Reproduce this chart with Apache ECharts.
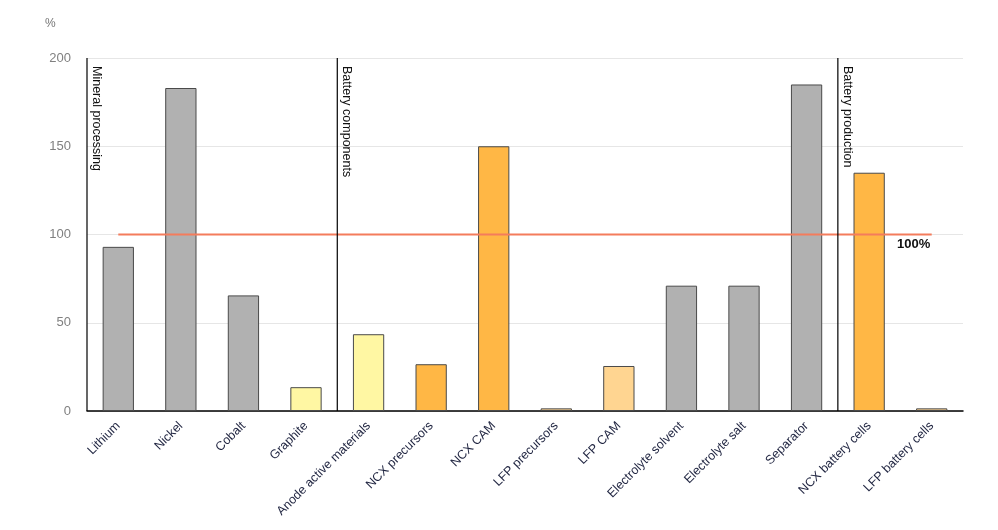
<!DOCTYPE html>
<html>
    <head>
        <meta charset="utf-8"/>
        <script src="https://cdn.jsdelivr.net/npm/echarts@6.0.0/dist/echarts.min.js"></script>
    </head>
	<body style="margin:0">
        <div id="main" style="width: 998px;height: 530px;"></div>
		<script>
			// 数据
			var categories = ['Lithium', 'Nickel', 'Cobalt', 'Graphite', 'Anode active materials', 'NCX precursors', 'NCX CAM',
			  'LFP precursors', 'LFP CAM', 'Electrolyte solvent', 'Electrolyte salt', 'Separator', 'NCX battery cells', 'LFP battery cells'];
			var values = [93, 183, 65.5, 13.5, 43.5, 26.5, 150, 1.5, 25.5, 71, 71, 185, 135, 1.5];
			var groups = ['mineral', 'mineral', 'mineral', 'anode', 'anode', 'ncx', 'ncx', 'lfp', 'lfp', 'mineral', 'mineral', 'mineral', 'ncx', 'lfp'];
			var threshold = categories.map(function () { return 100; });
			var stages = [[0, 'Mineral processing'], [4, 'Battery components'], [12, 'Battery production']];
			var yTicks = [0, 50, 100, 150, 200];

			var groupColors = { mineral: '#b1b1b1', anode: '#fff7a3', ncx: '#ffb745', lfp: '#ffd591' };

			var myChart = echarts.init(document.getElementById('main'));
			myChart.setOption({
			  animation: false,
			  title: {
				text: '%', left: 40, top: 13,
				textStyle: { fontSize: 12, fontWeight: 'normal', color: '#777', fontFamily: 'Liberation Sans' }
			  },
			  grid: { left: 87, right: 35, top: 58, bottom: 119 },
			  xAxis: [{
				type: 'category',
				data: categories,
				axisLine: { lineStyle: { color: '#000', width: 1.5 } },
				axisTick: { length: 8, lineStyle: { color: '#000', width: 1.5 } },
				axisLabel: { rotate: 45, fontSize: 12.5, color: '#1f2440', fontFamily: 'Liberation Sans', margin: 13, interval: 0 }
			  }, {
				type: 'value', min: 0, max: categories.length, show: false
			  }],
			  yAxis: {
				type: 'value', min: yTicks[0], max: yTicks[yTicks.length - 1], interval: 50,
				axisLine: { show: false }, axisTick: { show: false },
				axisLabel: { fontSize: 13, color: '#808080', fontFamily: 'Liberation Sans', margin: 16 },
				splitLine: { lineStyle: { color: '#e6e6e6' } }
			  },
			  series: [
				{
				  type: 'bar',
				  barWidth: '50%',
				  data: values.map(function (v, i) {
					return { value: v, itemStyle: { color: groupColors[groups[i]] } };
				  }),
				  itemStyle: { borderColor: '#4a4a4a', borderWidth: 1 }
				},
				{
				  type: 'line',
				  data: threshold.map(function (v, i) {
					if (i < threshold.length - 1) return v;
					return {
					  value: v,
					  label: {
						show: true, position: 'bottom', distance: 3, offset: [-18, 0],
						formatter: '100%', fontWeight: 'bold', fontSize: 13, color: '#111', fontFamily: 'Liberation Sans'
					  }
					};
				  }),
				  symbol: 'circle',
				  symbolSize: 0,
				  showSymbol: true,
				  lineStyle: { color: '#f47c5c', width: 2 },
				  z: 3
				},
				{
				  type: 'custom',
				  xAxisIndex: 1,
				  data: stages,
				  renderItem: function (params, api) {
					var top = api.coord([api.value(0), yTicks[yTicks.length - 1]]);
					var bottom = api.coord([api.value(0), 0]);
					return {
					  type: 'group',
					  children: [{
						type: 'line',
						shape: { x1: top[0], y1: top[1], x2: bottom[0], y2: bottom[1] },
						style: { stroke: '#000', lineWidth: 1.2 }
					  }, {
						type: 'text',
						x: top[0] + 3, y: top[1] + 8,
						rotation: -Math.PI / 2,
						style: {
						  text: stages[params.dataIndex][1],
						  fontSize: 12.5, fontFamily: 'Liberation Sans', fill: '#111',
						  align: 'left', verticalAlign: 'bottom'
						}
					  }]
					};
				  },
				  z: 4
				}
			  ]
			});
		</script>
  </body>
</html>
